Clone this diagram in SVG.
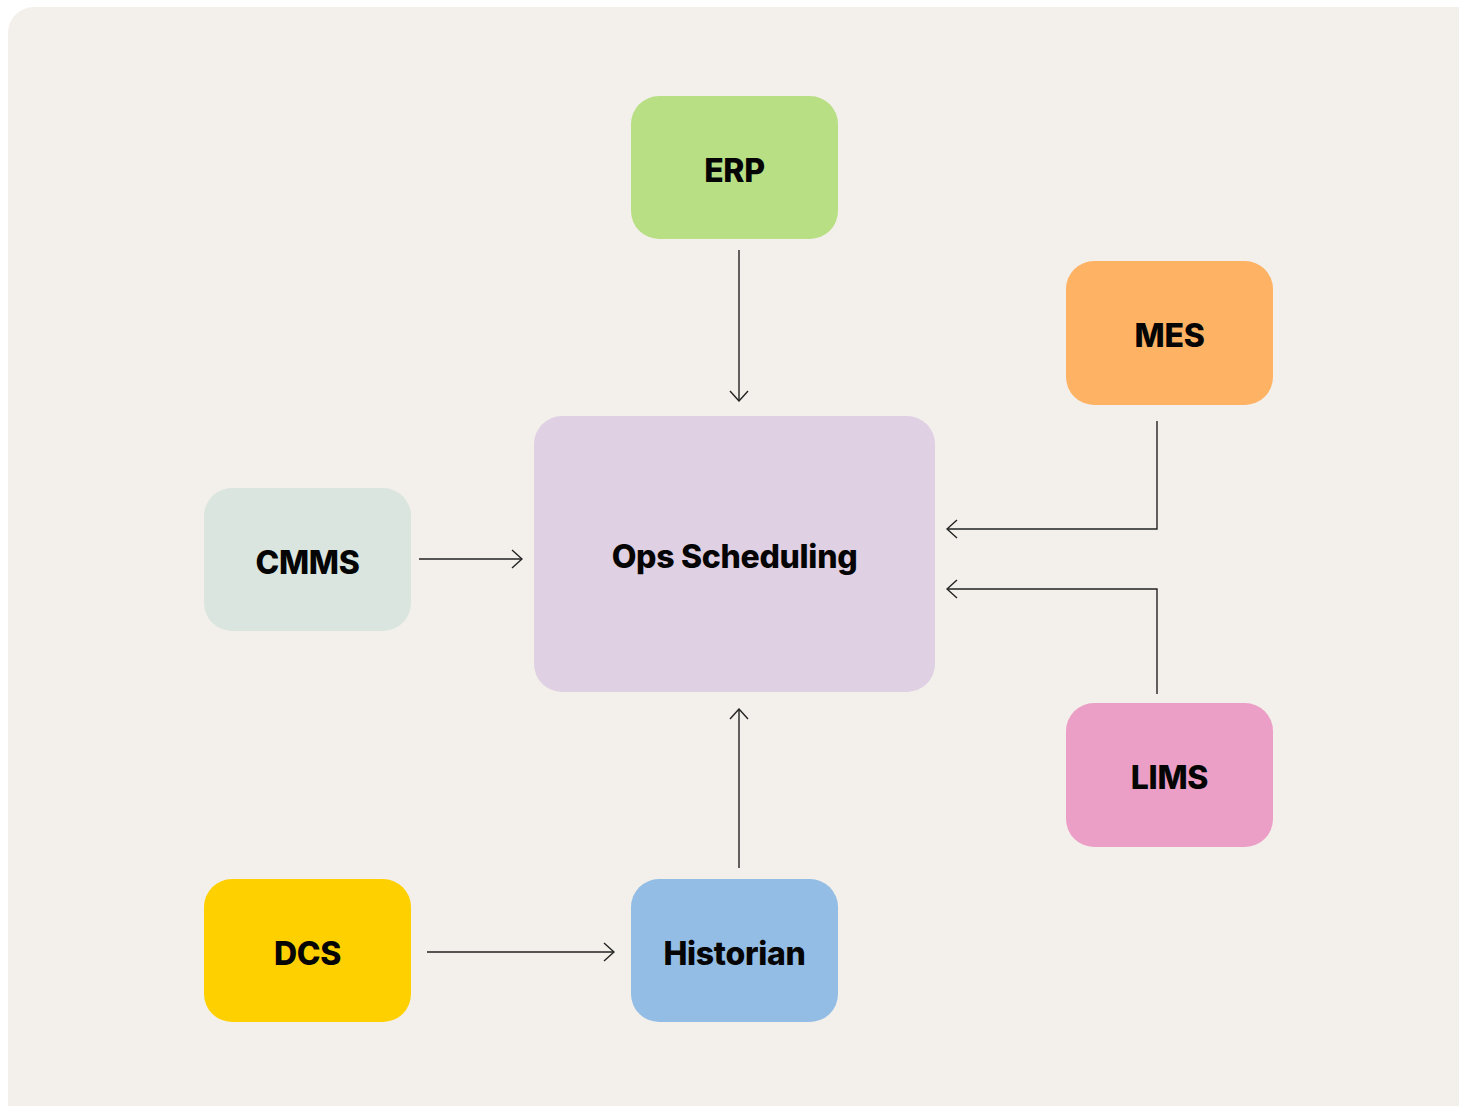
<svg xmlns="http://www.w3.org/2000/svg" width="1459" height="1106" viewBox="0 0 1459 1106">
  <style>
    .node text { font-family: Inter, Lato, "Noto Sans", "Liberation Sans", sans-serif; font-weight: 800; font-size: 32px; fill: #050505; text-anchor: middle; dominant-baseline: central; letter-spacing: -0.3px; }
    .edge { fill: none; stroke: #222; stroke-width: 1.4; marker-end: url(#chev); }
  </style>
  <defs>
    <marker id="chev" viewBox="0 0 12 20" refX="11" refY="10" markerWidth="12" markerHeight="20" markerUnits="userSpaceOnUse" orient="auto">
      <path d="M1,1 L11,10 L1,19" fill="none" stroke="#222" stroke-width="1.4"/>
    </marker>
  </defs>

  <!-- canvas -->
  <rect x="8" y="7" width="1480" height="1125" rx="26" fill="#f3f0eb"/>

  <!-- connectors -->
  <g id="connectors">
    <path class="edge" d="M739,250 L739,401"/>
    <path class="edge" d="M1157,421 L1157,529 L947,529"/>
    <path class="edge" d="M1157,694 L1157,589 L947,589"/>
    <path class="edge" d="M419,559 L522,559"/>
    <path class="edge" d="M739,868 L739,709"/>
    <path class="edge" d="M427,952 L614,952"/>
  </g>

  <!-- nodes -->
  <g id="erp" class="node">
    <rect x="631" y="96" width="207" height="143" rx="28" fill="#b9df85"/>
    <text x="734.5" y="170">ERP</text>
  </g>
  <g id="mes" class="node">
    <rect x="1066" y="261" width="207" height="144" rx="28" fill="#feb264"/>
    <text x="1169.5" y="335">MES</text>
  </g>
  <g id="ops" class="node">
    <rect x="534" y="416" width="401" height="276" rx="28" fill="#dfd0e3"/>
    <text x="734.5" y="556">Ops Scheduling</text>
  </g>
  <g id="cmms" class="node">
    <rect x="204" y="488" width="207" height="143" rx="28" fill="#dae5e0"/>
    <text x="307.5" y="562">CMMS</text>
  </g>
  <g id="lims" class="node">
    <rect x="1066" y="703" width="207" height="144" rx="28" fill="#eb9fc6"/>
    <text x="1169.5" y="777">LIMS</text>
  </g>
  <g id="dcs" class="node">
    <rect x="204" y="879" width="207" height="143" rx="28" fill="#ffd000"/>
    <text x="307.5" y="953">DCS</text>
  </g>
  <g id="historian" class="node">
    <rect x="631" y="879" width="207" height="143" rx="28" fill="#93bde4"/>
    <text x="734.5" y="953">Historian</text>
  </g>
</svg>
